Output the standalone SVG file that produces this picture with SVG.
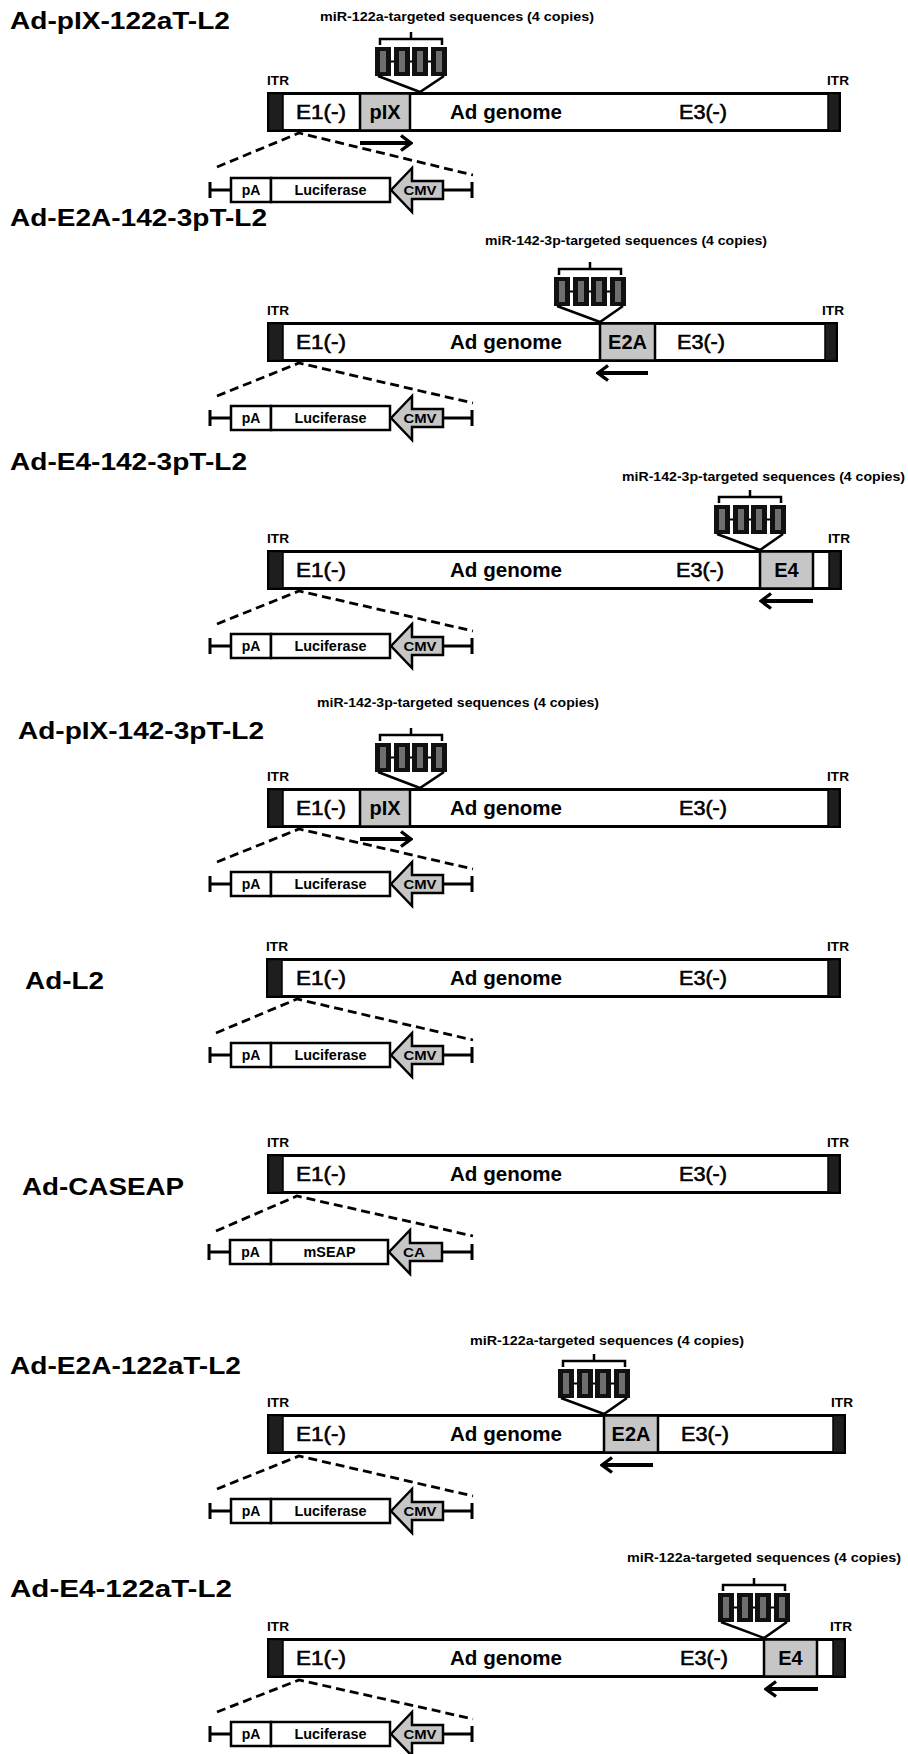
<svg xmlns="http://www.w3.org/2000/svg" width="908" height="1754" viewBox="0 0 908 1754">
<defs>
<style>
text{font-family:"Liberation Sans",Arial,Helvetica,sans-serif;fill:#000}
.ttl{font-size:23px;font-weight:bold}
.mir{font-size:12px;font-weight:bold}
.itrl{font-size:12.5px;font-weight:bold}
.g{font-size:20px;stroke:#000;stroke-width:0.6}
.gb{font-size:20px;font-weight:bold}
.cs{font-size:14px;font-weight:bold}
.cp{font-size:13px;font-weight:bold}
.bar{fill:#fff;stroke:#000;stroke-width:3}
.itr{fill:#1e1e1e;stroke:#000;stroke-width:1.5}
.ins{fill:#c6c6c6;stroke:#000;stroke-width:2.5}
.box{fill:#fff;stroke:#000;stroke-width:2.5}
.prom{fill:#c6c6c6;stroke:#000;stroke-width:2.5;stroke-linejoin:miter}
.ln{fill:none;stroke:#000;stroke-width:2.5}
.tk{fill:none;stroke:#000;stroke-width:3}
.dash{fill:none;stroke:#000;stroke-width:2.8;stroke-dasharray:9 5}
.arr{fill:none;stroke:#000;stroke-width:3.8;marker-end:url(#ah)}
.cpy{fill:#111}
.core{fill:#6e6e6e}
</style>
<marker id="ah" viewBox="0 0 14 18" refX="12" refY="9" markerWidth="14" markerHeight="18" markerUnits="userSpaceOnUse" orient="auto">
<path d="M2,1.5 L12,9 L2,16.5" fill="none" stroke="#000" stroke-width="3.4"/>
</marker>
</defs>

<!-- ===== Row 1: Ad-pIX-122aT-L2 (BT=92, C=188) ===== -->
<g id="title1"><text class="ttl" x="10" y="29" textLength="220" lengthAdjust="spacingAndGlyphs">Ad-pIX-122aT-L2</text></g>
<g id="targets1">
<text class="mir" x="320" y="21" textLength="274" lengthAdjust="spacingAndGlyphs">miR-122a-targeted sequences (4 copies)</text>
<path class="ln" d="M380,45 V39 H442 V45 M411,39 V32"/>
<line x1="375" y1="61.5" x2="447" y2="61.5" stroke="#000" stroke-width="2"/>
<rect class="cpy" x="375" y="47" width="16" height="29"/><rect class="cpy" x="394" y="47" width="16" height="29"/><rect class="cpy" x="412" y="47" width="16" height="29"/><rect class="cpy" x="431" y="47" width="16" height="29"/>
<rect class="core" x="380" y="51" width="6" height="21"/><rect class="core" x="399" y="51" width="6" height="21"/><rect class="core" x="417" y="51" width="6" height="21"/><rect class="core" x="436" y="51" width="6" height="21"/>
</g>
<g id="genome1">
<text class="itrl" x="267" y="85" textLength="22" lengthAdjust="spacingAndGlyphs">ITR</text>
<text class="itrl" x="827" y="85" textLength="22" lengthAdjust="spacingAndGlyphs">ITR</text>
<rect class="bar" x="268.5" y="93.5" width="571" height="37"/>
<rect class="itr" x="268.5" y="93.5" width="14.5" height="37"/>
<rect class="itr" x="828" y="93.5" width="11.5" height="37"/>
<rect class="ins" x="360" y="93.5" width="50" height="37"/>
<text class="g" x="296" y="119" textLength="50" lengthAdjust="spacingAndGlyphs">E1(-)</text>
<text class="gb" x="385" y="119" text-anchor="middle">pIX</text>
<text class="gb" x="450" y="119" textLength="112" lengthAdjust="spacingAndGlyphs">Ad genome</text>
<text class="g" x="679" y="119" textLength="48" lengthAdjust="spacingAndGlyphs">E3(-)</text>
</g>
<g id="cassette1">
<path class="tk" d="M210,182 V198 M210,190 H231 M472,182 V198 M443,190 H472"/>
<rect class="box" x="231" y="178" width="40" height="24"/>
<rect class="box" x="271" y="178" width="119" height="24"/>
<path class="prom" d="M391,190 L412,168 L412,181 L443,181 L443,199 L412,199 L412,212 Z"/>
<text class="cs" x="251" y="195" text-anchor="middle">pA</text>
<text class="cs" x="330.5" y="195" text-anchor="middle" textLength="72" lengthAdjust="spacingAndGlyphs">Luciferase</text>
<text class="cp" x="420" y="195" text-anchor="middle" textLength="33" lengthAdjust="spacingAndGlyphs">CMV</text>
</g>

<!-- ===== Row 2: Ad-E2A-142-3pT-L2 (BT=322, C=418) ===== -->
<g id="title2"><text class="ttl" x="10" y="226" textLength="257" lengthAdjust="spacingAndGlyphs">Ad-E2A-142-3pT-L2</text></g>
<g id="targets2">
<text class="mir" x="485" y="245" textLength="282" lengthAdjust="spacingAndGlyphs">miR-142-3p-targeted sequences (4 copies)</text>
<path class="ln" d="M559,275 V269 H621 V275 M590,269 V262"/>
<line x1="554" y1="291.5" x2="626" y2="291.5" stroke="#000" stroke-width="2"/>
<rect class="cpy" x="554" y="277" width="16" height="29"/><rect class="cpy" x="573" y="277" width="16" height="29"/><rect class="cpy" x="591" y="277" width="16" height="29"/><rect class="cpy" x="610" y="277" width="16" height="29"/>
<rect class="core" x="559" y="281" width="6" height="21"/><rect class="core" x="578" y="281" width="6" height="21"/><rect class="core" x="596" y="281" width="6" height="21"/><rect class="core" x="615" y="281" width="6" height="21"/>
</g>
<g id="genome2">
<text class="itrl" x="267" y="315" textLength="22" lengthAdjust="spacingAndGlyphs">ITR</text>
<text class="itrl" x="822" y="315" textLength="22" lengthAdjust="spacingAndGlyphs">ITR</text>
<rect class="bar" x="268.5" y="323.5" width="568" height="37"/>
<rect class="itr" x="268.5" y="323.5" width="14.5" height="37"/>
<rect class="itr" x="825" y="323.5" width="11.5" height="37"/>
<rect class="ins" x="600" y="323.5" width="55" height="37"/>
<text class="g" x="296" y="349" textLength="50" lengthAdjust="spacingAndGlyphs">E1(-)</text>
<text class="gb" x="450" y="349" textLength="112" lengthAdjust="spacingAndGlyphs">Ad genome</text>
<text class="gb" x="627.5" y="349" text-anchor="middle">E2A</text>
<text class="g" x="677" y="349" textLength="48" lengthAdjust="spacingAndGlyphs">E3(-)</text>
</g>
<g id="cassette2">
<path class="tk" d="M210,410 V426 M210,418 H231 M472,410 V426 M443,418 H472"/>
<rect class="box" x="231" y="406" width="40" height="24"/>
<rect class="box" x="271" y="406" width="119" height="24"/>
<path class="prom" d="M391,418 L412,396 L412,409 L443,409 L443,427 L412,427 L412,440 Z"/>
<text class="cs" x="251" y="423" text-anchor="middle">pA</text>
<text class="cs" x="330.5" y="423" text-anchor="middle" textLength="72" lengthAdjust="spacingAndGlyphs">Luciferase</text>
<text class="cp" x="420" y="423" text-anchor="middle" textLength="33" lengthAdjust="spacingAndGlyphs">CMV</text>
</g>

<!-- ===== Row 3: Ad-E4-142-3pT-L2 (BT=550, C=646) ===== -->
<g id="title3"><text class="ttl" x="10" y="470" textLength="237" lengthAdjust="spacingAndGlyphs">Ad-E4-142-3pT-L2</text></g>
<g id="targets3">
<text class="mir" x="622" y="481" textLength="283" lengthAdjust="spacingAndGlyphs">miR-142-3p-targeted sequences (4 copies)</text>
<path class="ln" d="M719,503 V497 H781 V503 M750,497 V490"/>
<line x1="714" y1="519.5" x2="786" y2="519.5" stroke="#000" stroke-width="2"/>
<rect class="cpy" x="714" y="505" width="16" height="29"/><rect class="cpy" x="733" y="505" width="16" height="29"/><rect class="cpy" x="751" y="505" width="16" height="29"/><rect class="cpy" x="770" y="505" width="16" height="29"/>
<rect class="core" x="719" y="509" width="6" height="21"/><rect class="core" x="738" y="509" width="6" height="21"/><rect class="core" x="756" y="509" width="6" height="21"/><rect class="core" x="775" y="509" width="6" height="21"/>
</g>
<g id="genome3">
<text class="itrl" x="267" y="543" textLength="22" lengthAdjust="spacingAndGlyphs">ITR</text>
<text class="itrl" x="828" y="543" textLength="22" lengthAdjust="spacingAndGlyphs">ITR</text>
<rect class="bar" x="268.5" y="551.5" width="572" height="37"/>
<rect class="itr" x="268.5" y="551.5" width="14.5" height="37"/>
<rect class="itr" x="829" y="551.5" width="11.5" height="37"/>
<rect class="ins" x="760" y="551.5" width="53" height="37"/>
<text class="g" x="296" y="577" textLength="50" lengthAdjust="spacingAndGlyphs">E1(-)</text>
<text class="gb" x="450" y="577" textLength="112" lengthAdjust="spacingAndGlyphs">Ad genome</text>
<text class="g" x="676" y="577" textLength="48" lengthAdjust="spacingAndGlyphs">E3(-)</text>
<text class="gb" x="786.5" y="577" text-anchor="middle">E4</text>
</g>
<g id="cassette3">
<path class="tk" d="M210,638 V654 M210,646 H231 M472,638 V654 M443,646 H472"/>
<rect class="box" x="231" y="634" width="40" height="24"/>
<rect class="box" x="271" y="634" width="119" height="24"/>
<path class="prom" d="M391,646 L412,624 L412,637 L443,637 L443,655 L412,655 L412,668 Z"/>
<text class="cs" x="251" y="651" text-anchor="middle">pA</text>
<text class="cs" x="330.5" y="651" text-anchor="middle" textLength="72" lengthAdjust="spacingAndGlyphs">Luciferase</text>
<text class="cp" x="420" y="651" text-anchor="middle" textLength="33" lengthAdjust="spacingAndGlyphs">CMV</text>
</g>

<!-- ===== Row 4: Ad-pIX-142-3pT-L2 (BT=788, C=884) ===== -->
<g id="title4"><text class="ttl" x="18" y="739" textLength="246" lengthAdjust="spacingAndGlyphs">Ad-pIX-142-3pT-L2</text></g>
<g id="targets4">
<text class="mir" x="317" y="707" textLength="282" lengthAdjust="spacingAndGlyphs">miR-142-3p-targeted sequences (4 copies)</text>
<path class="ln" d="M380,741 V735 H442 V741 M411,735 V728"/>
<line x1="375" y1="757.5" x2="447" y2="757.5" stroke="#000" stroke-width="2"/>
<rect class="cpy" x="375" y="743" width="16" height="29"/><rect class="cpy" x="394" y="743" width="16" height="29"/><rect class="cpy" x="412" y="743" width="16" height="29"/><rect class="cpy" x="431" y="743" width="16" height="29"/>
<rect class="core" x="380" y="747" width="6" height="21"/><rect class="core" x="399" y="747" width="6" height="21"/><rect class="core" x="417" y="747" width="6" height="21"/><rect class="core" x="436" y="747" width="6" height="21"/>
</g>
<g id="genome4">
<text class="itrl" x="267" y="781" textLength="22" lengthAdjust="spacingAndGlyphs">ITR</text>
<text class="itrl" x="827" y="781" textLength="22" lengthAdjust="spacingAndGlyphs">ITR</text>
<rect class="bar" x="268.5" y="789.5" width="571" height="37"/>
<rect class="itr" x="268.5" y="789.5" width="14.5" height="37"/>
<rect class="itr" x="828" y="789.5" width="11.5" height="37"/>
<rect class="ins" x="360" y="789.5" width="50" height="37"/>
<text class="g" x="296" y="815" textLength="50" lengthAdjust="spacingAndGlyphs">E1(-)</text>
<text class="gb" x="385" y="815" text-anchor="middle">pIX</text>
<text class="gb" x="450" y="815" textLength="112" lengthAdjust="spacingAndGlyphs">Ad genome</text>
<text class="g" x="679" y="815" textLength="48" lengthAdjust="spacingAndGlyphs">E3(-)</text>
</g>
<g id="cassette4">
<path class="tk" d="M210,876 V892 M210,884 H231 M472,876 V892 M443,884 H472"/>
<rect class="box" x="231" y="872" width="40" height="24"/>
<rect class="box" x="271" y="872" width="119" height="24"/>
<path class="prom" d="M391,884 L412,862 L412,875 L443,875 L443,893 L412,893 L412,906 Z"/>
<text class="cs" x="251" y="889" text-anchor="middle">pA</text>
<text class="cs" x="330.5" y="889" text-anchor="middle" textLength="72" lengthAdjust="spacingAndGlyphs">Luciferase</text>
<text class="cp" x="420" y="889" text-anchor="middle" textLength="33" lengthAdjust="spacingAndGlyphs">CMV</text>
</g>

<!-- ===== Row 5: Ad-L2 (BT=958, C=1055) ===== -->
<g id="title5"><text class="ttl" x="25" y="989" textLength="79" lengthAdjust="spacingAndGlyphs">Ad-L2</text></g>
<g id="genome5">
<text class="itrl" x="266" y="951" textLength="22" lengthAdjust="spacingAndGlyphs">ITR</text>
<text class="itrl" x="827" y="951" textLength="22" lengthAdjust="spacingAndGlyphs">ITR</text>
<rect class="bar" x="267.5" y="959.5" width="572" height="37"/>
<rect class="itr" x="267.5" y="959.5" width="14.5" height="37"/>
<rect class="itr" x="828" y="959.5" width="11.5" height="37"/>
<text class="g" x="296" y="985" textLength="50" lengthAdjust="spacingAndGlyphs">E1(-)</text>
<text class="gb" x="450" y="985" textLength="112" lengthAdjust="spacingAndGlyphs">Ad genome</text>
<text class="g" x="679" y="985" textLength="48" lengthAdjust="spacingAndGlyphs">E3(-)</text>
</g>
<g id="cassette5">
<path class="tk" d="M210,1047 V1063 M210,1055 H231 M472,1047 V1063 M443,1055 H472"/>
<rect class="box" x="231" y="1043" width="40" height="24"/>
<rect class="box" x="271" y="1043" width="119" height="24"/>
<path class="prom" d="M391,1055 L412,1033 L412,1046 L443,1046 L443,1064 L412,1064 L412,1077 Z"/>
<text class="cs" x="251" y="1060" text-anchor="middle">pA</text>
<text class="cs" x="330.5" y="1060" text-anchor="middle" textLength="72" lengthAdjust="spacingAndGlyphs">Luciferase</text>
<text class="cp" x="420" y="1060" text-anchor="middle" textLength="33" lengthAdjust="spacingAndGlyphs">CMV</text>
</g>

<!-- ===== Row 6: Ad-CASEAP (BT=1154, C=1252) ===== -->
<g id="title6"><text class="ttl" x="22" y="1195" textLength="162" lengthAdjust="spacingAndGlyphs">Ad-CASEAP</text></g>
<g id="genome6">
<text class="itrl" x="267" y="1147" textLength="22" lengthAdjust="spacingAndGlyphs">ITR</text>
<text class="itrl" x="827" y="1147" textLength="22" lengthAdjust="spacingAndGlyphs">ITR</text>
<rect class="bar" x="268.5" y="1155.5" width="571" height="37"/>
<rect class="itr" x="268.5" y="1155.5" width="14.5" height="37"/>
<rect class="itr" x="828" y="1155.5" width="11.5" height="37"/>
<text class="g" x="296" y="1181" textLength="50" lengthAdjust="spacingAndGlyphs">E1(-)</text>
<text class="gb" x="450" y="1181" textLength="112" lengthAdjust="spacingAndGlyphs">Ad genome</text>
<text class="g" x="679" y="1181" textLength="48" lengthAdjust="spacingAndGlyphs">E3(-)</text>
</g>
<g id="cassette6">
<path class="tk" d="M209,1244 V1260 M209,1252 H230 M472,1244 V1260 M442,1252 H472"/>
<rect class="box" x="230" y="1240" width="41" height="24"/>
<rect class="box" x="271" y="1240" width="117" height="24"/>
<path class="prom" d="M389,1252 L410,1230 L410,1243 L442,1243 L442,1261 L410,1261 L410,1274 Z"/>
<text class="cs" x="250.5" y="1257" text-anchor="middle">pA</text>
<text class="cs" x="329.5" y="1257" text-anchor="middle" textLength="52" lengthAdjust="spacingAndGlyphs">mSEAP</text>
<text class="cp" x="414" y="1257" text-anchor="middle" textLength="22" lengthAdjust="spacingAndGlyphs">CA</text>
</g>

<!-- ===== Row 7: Ad-E2A-122aT-L2 (BT=1414, C=1511) ===== -->
<g id="title7"><text class="ttl" x="10" y="1374" textLength="231" lengthAdjust="spacingAndGlyphs">Ad-E2A-122aT-L2</text></g>
<g id="targets7">
<text class="mir" x="470" y="1345" textLength="274" lengthAdjust="spacingAndGlyphs">miR-122a-targeted sequences (4 copies)</text>
<path class="ln" d="M563,1367 V1361 H625 V1367 M594,1361 V1354"/>
<line x1="558" y1="1383.5" x2="630" y2="1383.5" stroke="#000" stroke-width="2"/>
<rect class="cpy" x="558" y="1369" width="16" height="29"/><rect class="cpy" x="577" y="1369" width="16" height="29"/><rect class="cpy" x="595" y="1369" width="16" height="29"/><rect class="cpy" x="614" y="1369" width="16" height="29"/>
<rect class="core" x="563" y="1373" width="6" height="21"/><rect class="core" x="582" y="1373" width="6" height="21"/><rect class="core" x="600" y="1373" width="6" height="21"/><rect class="core" x="619" y="1373" width="6" height="21"/>
</g>
<g id="genome7">
<text class="itrl" x="267" y="1407" textLength="22" lengthAdjust="spacingAndGlyphs">ITR</text>
<text class="itrl" x="831" y="1407" textLength="22" lengthAdjust="spacingAndGlyphs">ITR</text>
<rect class="bar" x="268.5" y="1415.5" width="576" height="37"/>
<rect class="itr" x="268.5" y="1415.5" width="14.5" height="37"/>
<rect class="itr" x="833" y="1415.5" width="11.5" height="37"/>
<rect class="ins" x="604" y="1415.5" width="54" height="37"/>
<text class="g" x="296" y="1441" textLength="50" lengthAdjust="spacingAndGlyphs">E1(-)</text>
<text class="gb" x="450" y="1441" textLength="112" lengthAdjust="spacingAndGlyphs">Ad genome</text>
<text class="gb" x="631" y="1441" text-anchor="middle">E2A</text>
<text class="g" x="681" y="1441" textLength="48" lengthAdjust="spacingAndGlyphs">E3(-)</text>
</g>
<g id="cassette7">
<path class="tk" d="M210,1503 V1519 M210,1511 H231 M472,1503 V1519 M443,1511 H472"/>
<rect class="box" x="231" y="1499" width="40" height="24"/>
<rect class="box" x="271" y="1499" width="119" height="24"/>
<path class="prom" d="M391,1511 L412,1489 L412,1502 L443,1502 L443,1520 L412,1520 L412,1533 Z"/>
<text class="cs" x="251" y="1516" text-anchor="middle">pA</text>
<text class="cs" x="330.5" y="1516" text-anchor="middle" textLength="72" lengthAdjust="spacingAndGlyphs">Luciferase</text>
<text class="cp" x="420" y="1516" text-anchor="middle" textLength="33" lengthAdjust="spacingAndGlyphs">CMV</text>
</g>

<!-- ===== Row 8: Ad-E4-122aT-L2 (BT=1638, C=1734) ===== -->
<g id="title8"><text class="ttl" x="10" y="1597" textLength="222" lengthAdjust="spacingAndGlyphs">Ad-E4-122aT-L2</text></g>
<g id="targets8">
<text class="mir" x="627" y="1562" textLength="274" lengthAdjust="spacingAndGlyphs">miR-122a-targeted sequences (4 copies)</text>
<path class="ln" d="M723,1591 V1585 H785 V1591 M754,1585 V1578"/>
<line x1="718" y1="1607.5" x2="790" y2="1607.5" stroke="#000" stroke-width="2"/>
<rect class="cpy" x="718" y="1593" width="16" height="29"/><rect class="cpy" x="737" y="1593" width="16" height="29"/><rect class="cpy" x="755" y="1593" width="16" height="29"/><rect class="cpy" x="774" y="1593" width="16" height="29"/>
<rect class="core" x="723" y="1597" width="6" height="21"/><rect class="core" x="742" y="1597" width="6" height="21"/><rect class="core" x="760" y="1597" width="6" height="21"/><rect class="core" x="779" y="1597" width="6" height="21"/>
</g>
<g id="genome8">
<text class="itrl" x="267" y="1631" textLength="22" lengthAdjust="spacingAndGlyphs">ITR</text>
<text class="itrl" x="830" y="1631" textLength="22" lengthAdjust="spacingAndGlyphs">ITR</text>
<rect class="bar" x="268.5" y="1639.5" width="576" height="37"/>
<rect class="itr" x="268.5" y="1639.5" width="14.5" height="37"/>
<rect class="itr" x="833" y="1639.5" width="11.5" height="37"/>
<rect class="ins" x="764" y="1639.5" width="53" height="37"/>
<text class="g" x="296" y="1665" textLength="50" lengthAdjust="spacingAndGlyphs">E1(-)</text>
<text class="gb" x="450" y="1665" textLength="112" lengthAdjust="spacingAndGlyphs">Ad genome</text>
<text class="g" x="680" y="1665" textLength="48" lengthAdjust="spacingAndGlyphs">E3(-)</text>
<text class="gb" x="790.5" y="1665" text-anchor="middle">E4</text>
</g>
<g id="cassette8">
<path class="tk" d="M210,1726 V1742 M210,1734 H231 M472,1726 V1742 M443,1734 H472"/>
<rect class="box" x="231" y="1722" width="40" height="24"/>
<rect class="box" x="271" y="1722" width="119" height="24"/>
<path class="prom" d="M391,1734 L412,1712 L412,1725 L443,1725 L443,1743 L412,1743 L412,1756 Z"/>
<text class="cs" x="251" y="1739" text-anchor="middle">pA</text>
<text class="cs" x="330.5" y="1739" text-anchor="middle" textLength="72" lengthAdjust="spacingAndGlyphs">Luciferase</text>
<text class="cp" x="420" y="1739" text-anchor="middle" textLength="33" lengthAdjust="spacingAndGlyphs">CMV</text>
</g>

<!-- ===== Connectors ===== -->
<g id="connectors">
<path class="ln" d="M378,76 L420,92 L444,76"/>
<path class="ln" d="M557,306 L600,322 L623,306"/>
<path class="ln" d="M717,534 L760,550 L783,534"/>
<path class="ln" d="M378,772 L420,788 L444,772"/>
<path class="ln" d="M561,1398 L604,1414 L627,1398"/>
<path class="ln" d="M721,1622 L764,1638 L787,1622"/>
<path class="arr" d="M360,143 H411"/>
<path class="arr" d="M648,373 H598"/>
<path class="arr" d="M813,601 H761"/>
<path class="arr" d="M360,839 H411"/>
<path class="arr" d="M653,1465 H602"/>
<path class="arr" d="M818,1689 H766"/>
<path class="dash" d="M217,167 L299,133 L473,175"/>
<path class="dash" d="M217,396 L299,363 L473,403"/>
<path class="dash" d="M217,624 L299,591 L473,631"/>
<path class="dash" d="M217,862 L299,829 L473,869"/>
<path class="dash" d="M216,1033 L297,999 L473,1040"/>
<path class="dash" d="M216,1231 L297,1196 L473,1236"/>
<path class="dash" d="M217,1489 L299,1456 L473,1496"/>
<path class="dash" d="M217,1712 L299,1680 L473,1719"/>
</g>
</svg>
